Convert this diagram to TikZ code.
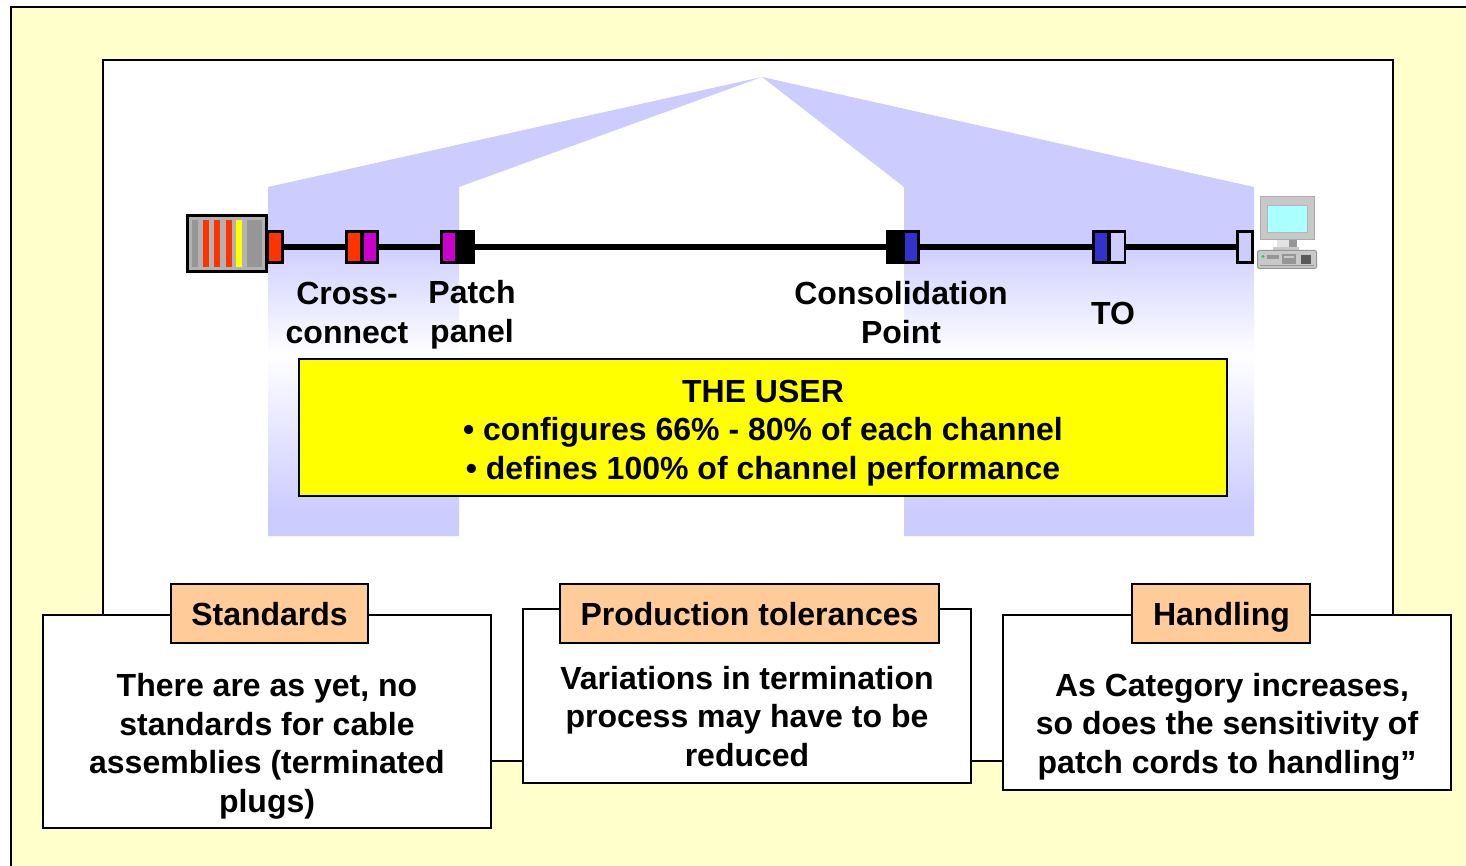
\documentclass[tikz,border=0pt]{standalone}
\usepackage{fontspec}
\setmainfont{Liberation Sans}

\definecolor{paleyellow}{HTML}{FFFFCC}
\definecolor{boxyellow}{HTML}{FFFF00}
\definecolor{bandblue}{HTML}{CCCCFF}
\definecolor{tabpeach}{HTML}{FFCC99}
\definecolor{plugred}{HTML}{FF3300}
\definecolor{plugpurple}{HTML}{CC00CC}
\definecolor{plugblue}{HTML}{3333CC}
\definecolor{rackgrey}{HTML}{B2B2B2}
\definecolor{slotgrey}{HTML}{969696}
\definecolor{pcgrey}{HTML}{C8C8C8}
\definecolor{pcscreen}{HTML}{AAFFFF}
\definecolor{pcled}{HTML}{22CC44}

\pgfdeclareverticalshading{bandfade}{100bp}{color(0bp)=(bandblue); color(27.8bp)=(bandblue); color(44.7bp)=(white); color(57.2bp)=(bandblue); color(100bp)=(bandblue)}

\tikzset{
  plug/.style={draw=black, line width=2.6pt, minimum width=15pt, minimum height=31.5pt, inner sep=0pt},
  cable/.style={line width=5.5pt},
  frameline/.style={draw=black, line width=2pt},
  sitelabel/.style={font=\fontsize{32}{39}\selectfont\bfseries, align=center, inner sep=0pt},
  bodytext/.style={font=\fontsize{32}{38.5}\selectfont\bfseries, align=center, inner sep=0pt},
  notebox/.style={frameline, fill=white, minimum width=448pt, inner sep=0pt},
  tabbox/.style={frameline, fill=tabpeach, minimum height=59pt, inner sep=0pt, font=\fontsize{32}{38.5}\selectfont\bfseries}
}

\begin{document}
\begin{tikzpicture}[x=1pt,y=-1pt]
\clip (0,0) rectangle (1466,866);

% frames
\draw[frameline, fill=paleyellow] (11,7) rectangle (1480,880);
\draw[frameline, fill=white] (103,60) rectangle (1393,761);

% blue bands
\shade[shading=bandfade] (268,187) -- (762,77) -- (459,187) -- (459,536) -- (268,536) -- cycle;
\shade[shading=bandfade] (904,187) -- (762,77) -- (1254,187) -- (1254,536) -- (904,536) -- cycle;

% rack on the left
\node[frameline, line width=2.5pt, fill=rackgrey, minimum width=79pt, minimum height=56pt, inner sep=0pt] (rack) at (227,243.5) {};
\foreach \xa/\xb/\col in {192/198/slotgrey,203/209/plugred,214/220/plugred,226/231.5/plugred,236/242/boxyellow,247/262/slotgrey}
    \fill[\col] (\xa,220) rectangle (\xb,267);

% computer on the right
\node[draw=slotgrey!80, line width=1pt, fill=pcgrey, minimum width=54pt, minimum height=43pt, inner sep=0pt] (monitor) at (1287.5,218.5) {};
\node[fill=pcscreen, draw=slotgrey!70, minimum width=40pt, minimum height=27pt, inner sep=0pt] at (1287.5,218.5) {};
\fill[pcgrey!50] (1277,240) rectangle (1289,248);
\fill[slotgrey] (1289,240) rectangle (1297,248);
\fill[pcgrey] (1273,247) rectangle (1299,251);
\node[draw=slotgrey, line width=1pt, fill=pcgrey, rounded corners=2pt, minimum width=59pt, minimum height=18pt, inner sep=0pt] (tower) at (1287,259.5) {};
\fill[pcled] (1263,256.5) circle (1.6pt);
\fill[slotgrey] (1267,255) rectangle (1279,259);
\fill[slotgrey] (1282,254) rectangle (1296,264);
\fill[pcgrey] (1284,256) rectangle (1294,258);
\fill[slotgrey!60!black] (1301,255) rectangle (1311,264);
\draw[slotgrey] (1260,265) -- (1314,265);

% plugs
\foreach \nm/\xx/\col in {swport/275/plugred,ccleft/354/plugred,ccright/370/plugpurple,ppleft/449/plugpurple,ppright/466/black,cpleft/894.5/black,cpright/911/plugblue,toleft/1101/plugblue,toright/1117.5/bandblue,pcport/1245/bandblue}
    \node[plug, fill=\col] (\nm) at (\xx,247) {};

% cable
\draw[cable] (swport) -- (ccleft);
\draw[cable] (ccright) -- (ppleft);
\draw[cable] (ppright) -- (cpleft);
\draw[cable] (cpright) -- (toleft);
\draw[cable] (toright) -- (pcport);

% labels under the cable
\node[sitelabel] (crossconnect) at (347,312.5) {Cross-\\connect};
\node[sitelabel] (patchpanel) at (472,315) {Patch\\panel};
\node[sitelabel] (consolidation) at (901,312.5) {Consolidation\\Point};
\node[sitelabel] (tolabel) at (1113,313) {TO};

% yellow box
\node[draw=black, line width=2.5pt, fill=boxyellow, minimum width=928pt, minimum height=137pt, inner sep=0pt] (userbox) at (763,427.5) {};
\node[bodytext] (usertext) at (763,433) {THE USER\\• configures 66\% - 80\% of each channel\\• defines 100\% of channel performance};

% boxes at the bottom
\node[notebox, minimum height=213pt] (stdbox) at (267,721.5) {};
\node[notebox, minimum height=174pt] (prodbox) at (747,696) {};
\node[notebox, minimum height=175pt] (handbox) at (1227,702.5) {};

\node[tabbox, minimum width=197pt] (stdtab) at (269.5,613.5) {};
\node[tabbox, minimum width=379pt] (prodtab) at (749.5,613.5) {};
\node[tabbox, minimum width=178pt] (handtab) at (1221,613.5) {};
\node[bodytext] (stdlabel) at (269.5,614.5) {Standards};
\node[bodytext] (prodlabel) at (749.5,614.5) {Production tolerances};
\node[bodytext] (handlabel) at (1221.5,617) {Handling};

\node[bodytext] (stdtext) at (267,746.5) {There are as yet, no\\standards for cable\\assemblies (terminated\\plugs)};
\node[bodytext] (prodtext) at (747,716.5) {Variations in termination\\process may have to be\\reduced};
\node[bodytext] (handtext) at (1227,726.5) {\hspace*{10pt}As Category increases,\\so does the sensitivity of\\patch cords to handling”};
\end{tikzpicture}
\end{document}
